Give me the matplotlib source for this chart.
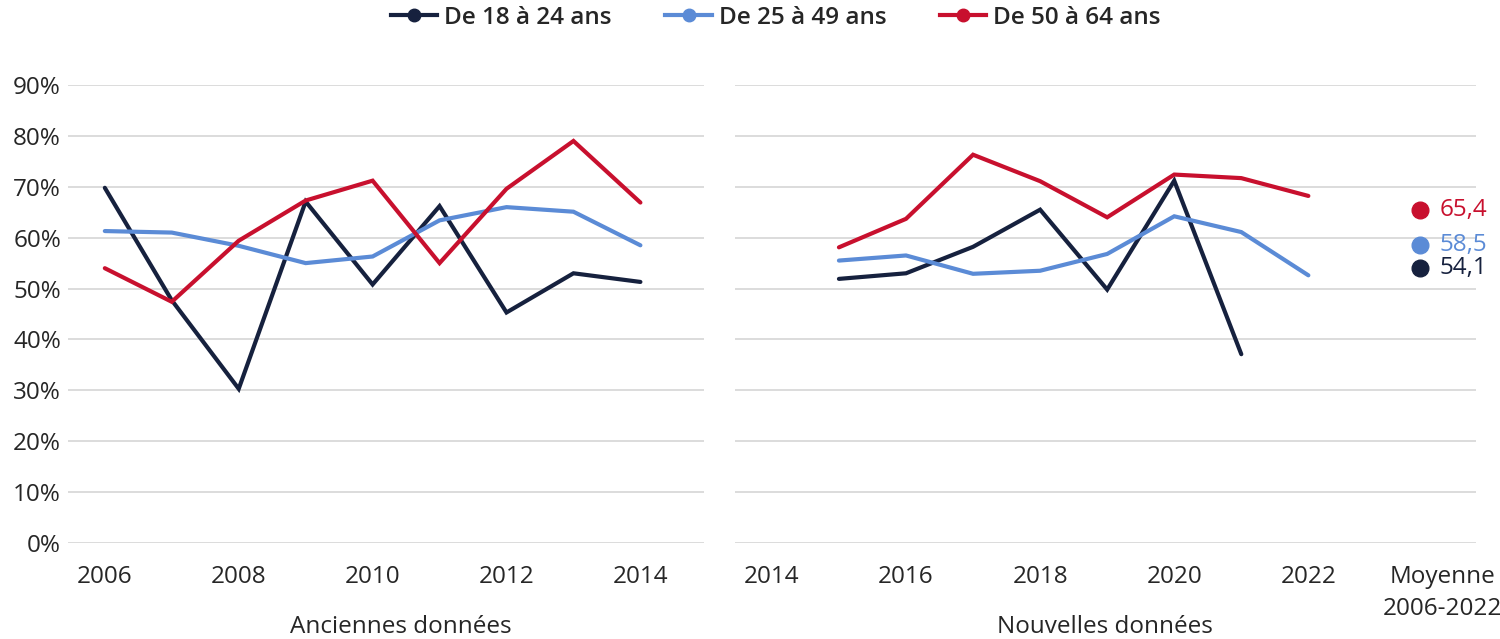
import matplotlib
matplotlib.use("Agg")
import matplotlib.pyplot as plt
from matplotlib.lines import Line2D

plt.rcParams['font.family'] = ['Open Sans', 'DejaVu Sans']

# ---- data ----
years_old = [2006, 2007, 2008, 2009, 2010, 2011, 2012, 2013, 2014]
old_18_24 = [69.8, 47.7, 30.3, 67.1, 50.8, 66.2, 45.3, 53.0, 51.3]
old_25_49 = [61.3, 61.0, 58.4, 55.0, 56.3, 63.4, 66.0, 65.1, 58.5]
old_50_64 = [54.0, 47.4, 59.4, 67.3, 71.2, 55.0, 69.6, 79.0, 66.9]

years_new = [2015, 2016, 2017, 2018, 2019, 2020, 2021, 2022]
new_18_24 = [51.9, 53.0, 58.2, 65.5, 49.8, 71.2, 37.1, None]
new_25_49 = [55.5, 56.5, 52.9, 53.5, 56.8, 64.2, 61.1, 52.6]
new_50_64 = [58.1, 63.7, 76.3, 71.1, 64.0, 72.4, 71.7, 68.2]

mean_labels = ["54,1", "58,5", "65,4"]
mean_values = [54.1, 58.5, 65.4]

series_names = ["De 18 à 24 ans", "De 25 à 49 ans", "De 50 à 64 ans"]
colors = ["#16213e", "#5b8bd6", "#c8102e"]

old_ticks = [2006, 2008, 2010, 2012, 2014]
new_ticks = [2014, 2016, 2018, 2020, 2022]
mean_pos = 2024
yticks = list(range(0, 100, 10))

# ---- figure ----
fig = plt.figure(figsize=(15, 6.39), dpi=100)
axL = fig.add_axes([68/1500, 1-543/639, 636/1500, (543-85)/639])
axR = fig.add_axes([735/1500, 1-543/639, 741/1500, (543-85)/639])

grid_c = "#d9d9d9"
text_c = "#262626"
fs = 17.5

for ax in (axL, axR):
    ax.set_ylim(0, 90)
    ax.set_yticks(yticks)
    ax.grid(axis='y', color=grid_c, linewidth=1.3)
    ax.set_axisbelow(True)
    for s in ax.spines.values():
        s.set_visible(False)
    ax.tick_params(length=0, labelsize=fs, labelcolor=text_c)
    ax.tick_params(axis='x', pad=16)

axL.set_yticklabels([f"{v}%" for v in yticks])
axL.tick_params(axis='y', pad=5)
axR.set_yticklabels([])

axL.set_xlim(2005.45, 2014.95)
axL.set_xticks(old_ticks)
axL.set_xticklabels([str(t) for t in old_ticks])

axR.set_xlim(2013.45, 2024.5)
axR.set_xticks(new_ticks + [mean_pos])
labs = axR.set_xticklabels([str(t) for t in new_ticks] + ["Moyenne\n2006-2022"])
labs[-1].set_linespacing(1.45)

lw = 3.0
for vals, c in zip([old_18_24, old_25_49, old_50_64], colors):
    axL.plot(years_old, vals, color=c, lw=lw, solid_capstyle='round',
             solid_joinstyle='miter', clip_on=False)
for vals, c in zip([new_18_24, new_25_49, new_50_64], colors):
    xs = [x for x, v in zip(years_new, vals) if v is not None]
    ys = [v for v in vals if v is not None]
    axR.plot(xs, ys, color=c, lw=lw, solid_capstyle='round',
             solid_joinstyle='miter', clip_on=False)

dot_x = mean_pos - 0.33
for v, lab, c in zip(mean_values, mean_labels, colors):
    axR.plot([dot_x], [v], 'o', color=c, markersize=12, clip_on=False)
    axR.annotate(lab, (dot_x, v), xytext=(14, 0), textcoords='offset points',
                 va='center', ha='left', fontsize=fs, color=c)

fig.text(401/1500, 1-627/639, "Anciennes données", ha='center', va='center',
         fontsize=fs, color=text_c)
fig.text(1105/1500, 1-627/639, "Nouvelles données", ha='center', va='center',
         fontsize=fs, color=text_c)

handles = [Line2D([0], [0], color=c, lw=lw, marker='o', markersize=9)
           for c in colors]
fig.legend(handles, series_names, loc='center', ncol=3,
           bbox_to_anchor=(776/1500, 1-18/639), frameon=False,
           prop={'size': fs, 'weight': 'semibold'},
           handlelength=1.9, handletextpad=0.3,
           columnspacing=2.2, labelcolor=text_c)

fig.savefig("out.png", dpi=100)
